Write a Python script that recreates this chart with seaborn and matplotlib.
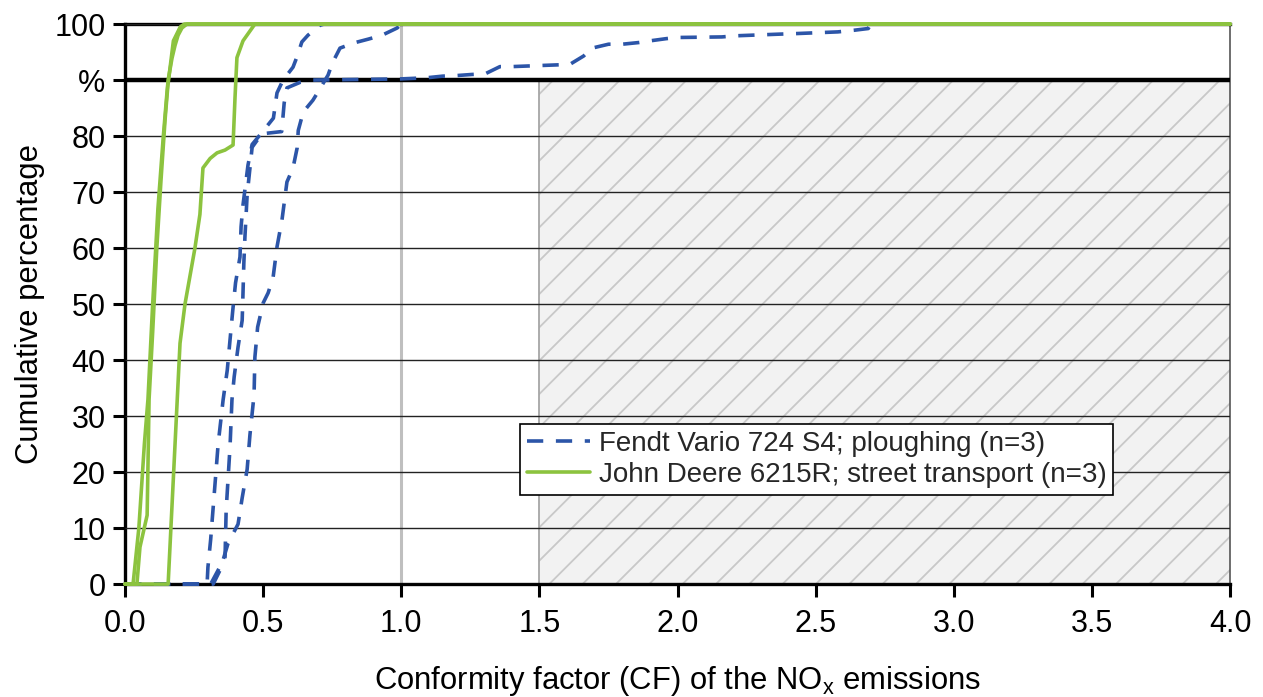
import numpy as np
import pandas as pd
import matplotlib
matplotlib.use('Agg')
import matplotlib.pyplot as plt
import seaborn as sns

# Cumulative distributions of the NOx conformity factor
fendt_label = "Fendt Vario 724 S4; ploughing (n=3)"
deere_label = "John Deere 6215R; street transport (n=3)"

fendt_1_cf = [0, 0.297, 0.30, 0.31, 0.337, 0.355, 0.37, 0.38, 0.39, 0.40, 0.416, 0.42, 0.427,
              0.445, 0.46, 0.49, 0.537, 0.55, 0.572, 0.608, 0.622, 0.64, 0.662, 0.706, 0.72, 4.0]
fendt_1_pct = [0, 0, 3, 8, 25, 32.9, 38.2, 43.6, 48.9, 53.8, 58.4, 63.8, 67.7,
               74.8, 78.5, 80.3, 83.2, 87.7, 90, 92.3, 94.1, 96.8, 98, 99.8, 100, 100]

fendt_2_cf = [0, 0.31, 0.362, 0.366, 0.38, 0.387, 0.395, 0.409, 0.424, 0.427, 0.43, 0.434,
              0.442, 0.46, 0.495, 0.567, 0.576, 0.586, 0.634, 0.68, 0.996, 1.09, 1.15, 1.20,
              1.256, 1.303, 1.357, 1.40, 1.56, 1.61, 1.66, 1.69, 1.75, 1.80, 1.86, 1.90, 1.96,
              2.0, 2.16, 2.21, 2.37, 2.43, 2.48, 2.53, 2.58, 2.64, 2.69, 2.70, 4.0]
fendt_2_pct = [0, 0, 4.8, 13.2, 24.5, 32.9, 37, 42.3, 47.1, 52, 57.3, 62,
               69.5, 78, 80.4, 80.8, 85.9, 88.6, 89.6, 90, 90.2, 90.4, 90.7, 90.8,
               91.0, 91.1, 92.4, 92.4, 92.7, 92.8, 94.3, 95.7, 96.4, 96.4, 96.7, 97, 97.4,
               97.6, 97.7, 97.9, 98.2, 98.3, 98.4, 98.5, 98.6, 98.9, 99.2, 100, 100]

fendt_3_cf = [0, 0.319, 0.344, 0.373, 0.409, 0.424, 0.442, 0.452, 0.467, 0.47, 0.48, 0.50,
              0.518, 0.536, 0.55, 0.568, 0.586, 0.608, 0.623, 0.627, 0.645, 0.68, 0.70, 0.735,
              0.75, 0.778, 0.826, 0.88, 0.93, 0.985, 1.0, 4.0]
fendt_3_pct = [0, 0, 2.5, 7.3, 10.7, 15.4, 20.5, 26.6, 33.8, 40.5, 45.9, 50.2,
               52, 54.8, 60.2, 65, 71.8, 74.3, 77.9, 81, 84.3, 86.4, 88, 90.9,
               93, 95.7, 96.6, 97.3, 98, 99.3, 100, 100]

deere_1_cf = [0, 0.029, 0.05, 0.07, 0.083, 0.10, 0.119, 0.138, 0.152, 0.156, 0.170, 0.181,
              0.192, 0.206, 0.224, 4.0]
deere_1_pct = [0, 0, 10, 25, 33, 50, 67, 79.6, 87.9, 90, 93.9, 96.2, 98, 99.3, 100, 100]

deere_2_cf = [0, 0.043, 0.054, 0.08, 0.087, 0.10, 0.115, 0.13, 0.145, 0.155, 0.165, 0.175,
              0.19, 0.20, 0.215, 4.0]
deere_2_pct = [0, 0, 6.6, 12.3, 33, 45, 60, 72, 83, 89, 93, 97, 98.5, 99.5, 100, 100]

deere_3_cf = [0, 0.156, 0.188, 0.199, 0.217, 0.253, 0.271, 0.282, 0.308, 0.333, 0.362, 0.391,
              0.398, 0.405, 0.427, 0.46, 0.47, 4.0]
deere_3_pct = [0, 0, 32, 43, 50, 60, 66, 74.3, 76, 77, 77.5, 78.4, 86.8, 94, 97, 99.3, 100, 100]

x_ticks = [0.0, 0.5, 1.0, 1.5, 2.0, 2.5, 3.0, 3.5, 4.0]
y_ticks = [0, 10, 20, 30, 40, 50, 60, 70, 80, 90, 100]
y_tick_labels = ["0", "10", "20", "30", "40", "50", "60", "70", "80", "%", "100"]

runs = [
    (fendt_label, "f1", fendt_1_cf, fendt_1_pct),
    (fendt_label, "f2", fendt_2_cf, fendt_2_pct),
    (fendt_label, "f3", fendt_3_cf, fendt_3_pct),
    (deere_label, "d1", deere_1_cf, deere_1_pct),
    (deere_label, "d2", deere_2_cf, deere_2_pct),
    (deere_label, "d3", deere_3_cf, deere_3_pct),
]
df = pd.concat([
    pd.DataFrame({"cf": cf, "pct": pct, "tractor": name, "run": run})
    for name, run, cf, pct in runs
], ignore_index=True)

sns.set_theme(style="white")
plt.rcParams['font.family'] = ['Liberation Sans', 'DejaVu Sans']
plt.rcParams['hatch.linewidth'] = 1.3

fig = plt.figure(figsize=(12.63, 6.97), dpi=100)
ax = fig.add_axes([0.099, 0.162, 0.875, 0.8035])

# limit-value region (CF > 1.5)
ax.axvspan(1.5, 4.0, ymin=0, ymax=0.9, facecolor="#f2f2f2", edgecolor="#c8c8c8",
           hatch="/", lw=0, zorder=1)
ax.axvline(1.5, ymax=0.9, color="#a6a6a6", lw=1.3, zorder=1.1)
ax.axvline(1.0, color="#bfbfbf", lw=2.2, zorder=1.2)

sns.lineplot(data=df, x="cf", y="pct", hue="tractor", style="tractor", units="run",
             estimator=None, sort=False,
             palette={fendt_label: "#2c55a8", deere_label: "#8cc33f"},
             dashes={fendt_label: (4.5, 3.5), deere_label: ""},
             linewidth=2.6, ax=ax, zorder=3, clip_on=False)

ax.axhline(90, color="black", lw=3.2, zorder=2.6)

ax.set_xlim(0, 4.0)
ax.set_ylim(0, 100)
ax.set_xticks(x_ticks)
ax.set_xticklabels([f"{t:.1f}" for t in x_ticks])
ax.set_yticks(y_ticks)
ax.set_yticklabels(y_tick_labels)

ax.set_axisbelow(False)
ax.yaxis.grid(True, color="#222222", lw=1.0, zorder=2)
ax.xaxis.grid(False)

for side in ["left", "bottom", "top"]:
    ax.spines[side].set_color("black")
    ax.spines[side].set_linewidth(2.4)
ax.spines["right"].set_color("#555555")
ax.spines["right"].set_linewidth(1.2)

ax.tick_params(axis="both", which="major", labelsize=22, colors="black",
               length=9, width=2.2, direction="out")
ax.tick_params(axis="y", left=True, pad=5)
ax.tick_params(axis="x", bottom=True, pad=9)

ax.set_xlabel(r"Conformity factor (CF) of the NO$_\mathregular{x}$ emissions",
              fontsize=22.3, labelpad=18, color="black")
ax.set_ylabel("Cumulative percentage", fontsize=22.3, labelpad=7, color="black")

handles, labels = ax.get_legend_handles_labels()
keep = [(h, l) for h, l in zip(handles, labels) if l in (fendt_label, deere_label)]
if ax.get_legend() is not None:
    ax.get_legend().remove()
leg = ax.legend([h for h, _ in keep], [l for _, l in keep], loc="lower left",
                bbox_to_anchor=(0.357, 0.159), fontsize=20, frameon=True, fancybox=False,
                framealpha=1, edgecolor="black", borderpad=0.25, labelspacing=0.2,
                handlelength=2.3, handletextpad=0.3, borderaxespad=0)
leg.get_frame().set_linewidth(1.2)
leg.set_zorder(5)

fig.savefig("out.png", dpi=100)
